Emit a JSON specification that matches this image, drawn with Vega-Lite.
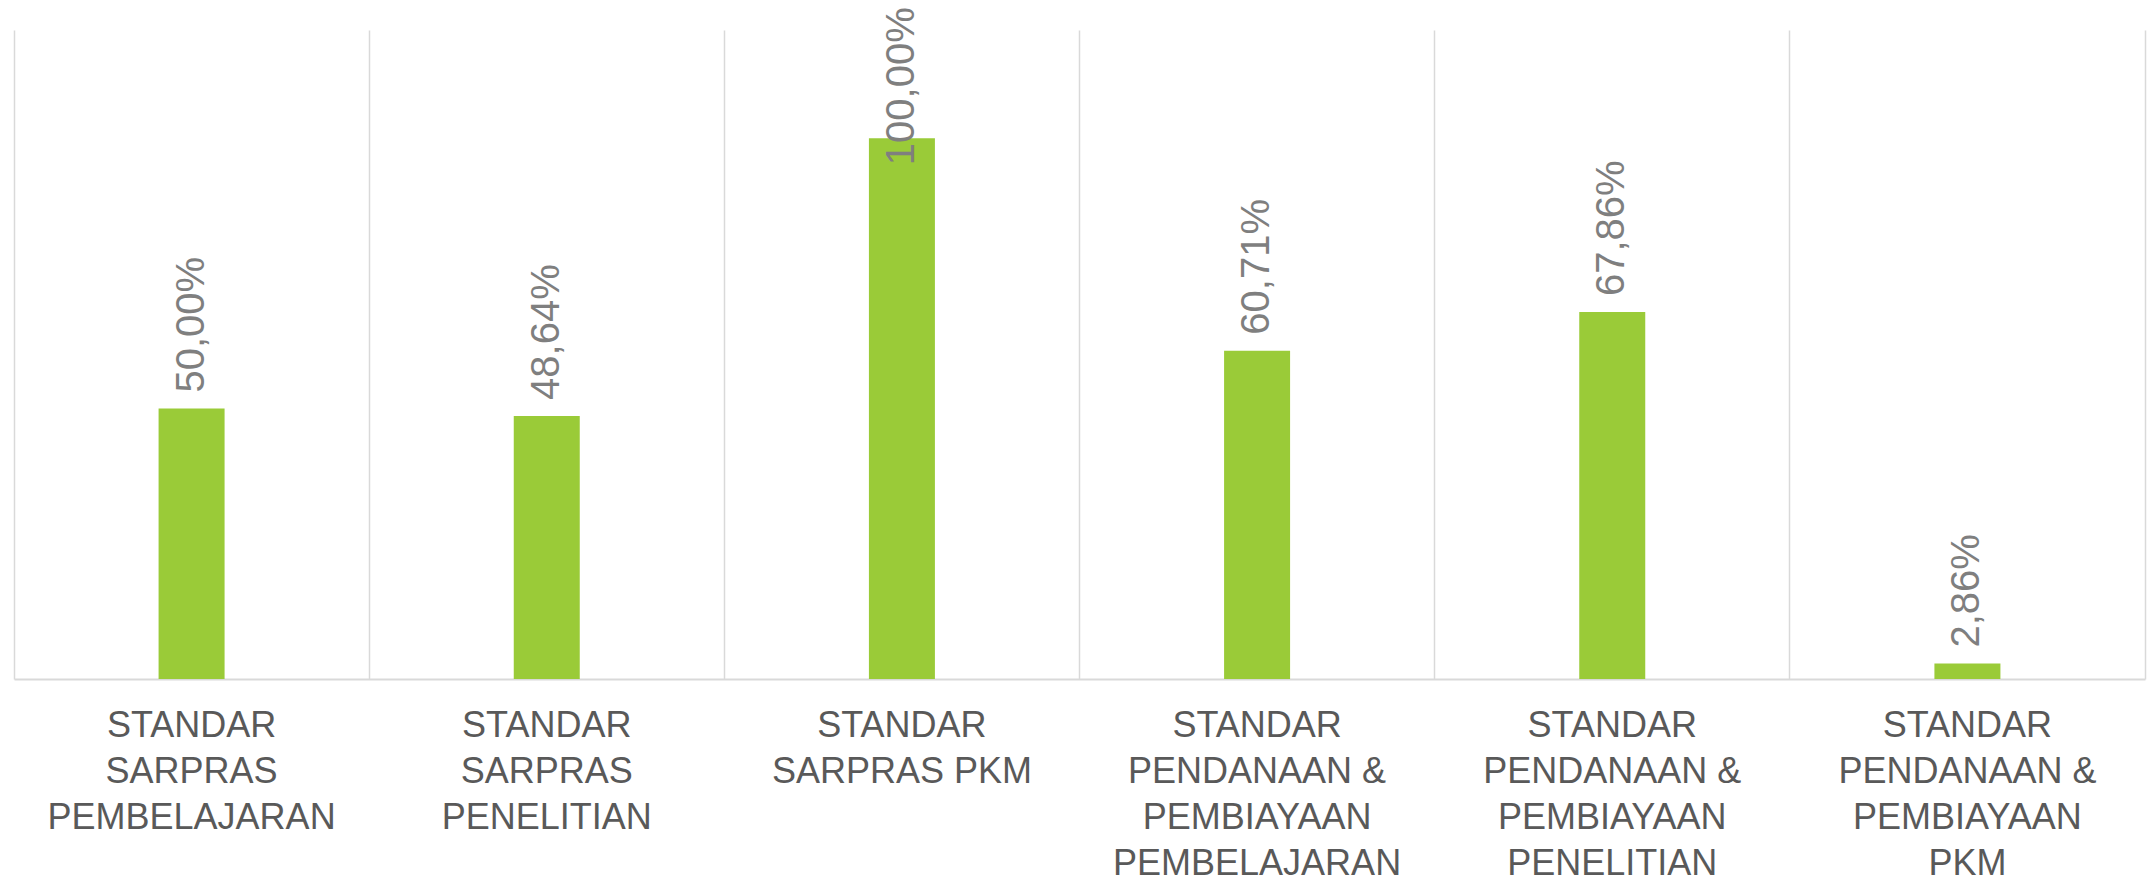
{
  "$schema": "https://vega.github.io/schema/vega-lite/v6.json",
  "width": 2131,
  "height": 649,
  "autosize": {"type": "none"},
  "padding": {"left": 14, "top": 30, "right": 4, "bottom": 205},
  "background": "white",
  "config": {"view": {"stroke": null}},
  "data": {
    "values": [
      {"kategori": "STANDAR|SARPRAS|PEMBELAJARAN", "nilai": 50.00},
      {"kategori": "STANDAR|SARPRAS|PENELITIAN", "nilai": 48.64},
      {"kategori": "STANDAR|SARPRAS PKM", "nilai": 100.00},
      {"kategori": "STANDAR|PENDANAAN &|PEMBIAYAAN|PEMBELAJARAN", "nilai": 60.71},
      {"kategori": "STANDAR|PENDANAAN &|PEMBIAYAAN|PENELITIAN", "nilai": 67.86},
      {"kategori": "STANDAR|PENDANAAN &|PEMBIAYAAN|PKM", "nilai": 2.86}
    ]
  },
  "transform": [
    {"calculate": "replace(format(datum.nilai, '.2f'), '.', ',') + '%'", "as": "label"}
  ],
  "encoding": {
    "x": {
      "field": "kategori",
      "type": "nominal",
      "sort": null,
      "scale": {"paddingInner": 0, "paddingOuter": 0},
      "axis": {
        "title": null,
        "labelAngle": 0,
        "labelExpr": "split(datum.label, '|')",
        "labelFont": "Liberation Sans",
        "labelFontSize": 36,
        "labelLineHeight": 46,
        "labelColor": "#595959",
        "labelPadding": 29,
        "labelBaseline": "top",
        "labelBound": false,
        "labelOverlap": false,
        "labelLimit": 500,
        "ticks": false,
        "domainColor": "#d9d9d9",
        "domainWidth": 2,
        "grid": true,
        "gridColor": "#d9d9d9",
        "gridWidth": 1.5,
        "bandPosition": 0
      }
    },
    "y": {
      "field": "nilai",
      "type": "quantitative",
      "scale": {"domain": [0, 120]},
      "axis": {
        "orient": "right",
        "title": null,
        "labels": false,
        "ticks": false,
        "grid": false,
        "domain": true,
        "domainColor": "#d9d9d9",
        "domainWidth": 1.5
      }
    }
  },
  "layer": [
    {"mark": {"type": "bar", "size": 66, "color": "#9acb38"}},
    {
      "transform": [{"filter": "datum.nilai <= 90"}],
      "mark": {
        "type": "text",
        "angle": -90,
        "align": "left",
        "baseline": "middle",
        "dx": 16,
        "font": "Liberation Sans",
        "fontSize": 40,
        "color": "#7f7f7f"
      },
      "encoding": {"text": {"field": "label"}}
    },
    {
      "transform": [{"filter": "datum.nilai > 90"}],
      "mark": {
        "type": "text",
        "angle": -90,
        "align": "left",
        "baseline": "middle",
        "dx": -27,
        "font": "Liberation Sans",
        "fontSize": 40,
        "color": "#7f7f7f"
      },
      "encoding": {"text": {"field": "label"}}
    }
  ]
}
